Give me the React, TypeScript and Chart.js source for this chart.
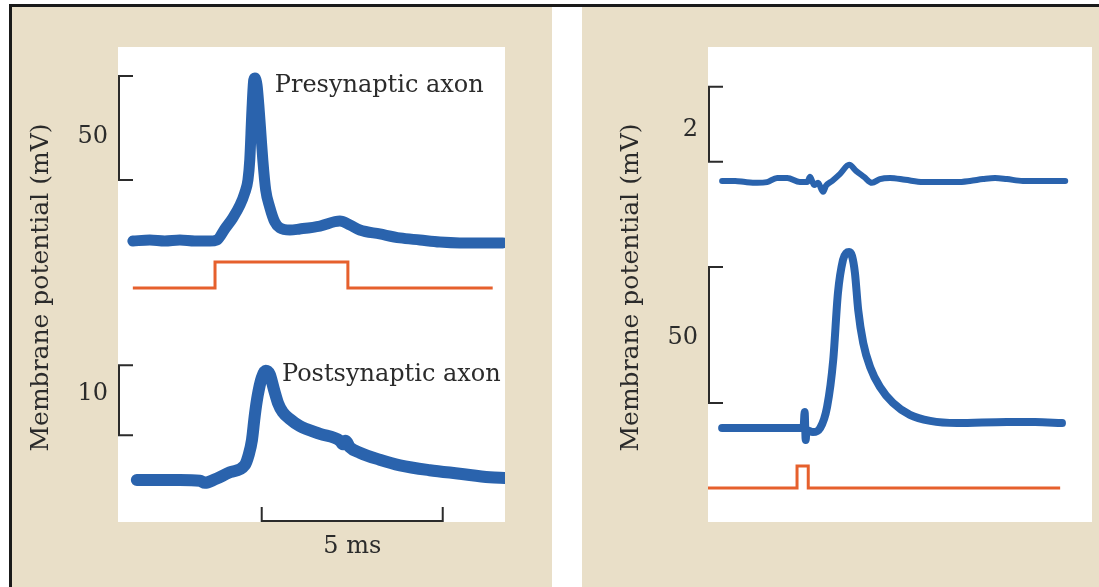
import React, { useEffect, useRef } from "react";
import { Chart, registerables } from "chart.js";

Chart.register(...registerables);

// ---------- Left panel data (time in ms, potential in mV) ----------
const preTime = [0, 0.47, 0.88, 1.3, 1.71, 2.13, 2.32, 2.54, 2.76, 2.96, 3.09, 3.18, 3.23, 3.29, 3.34, 3.37, 3.43, 3.48, 3.54, 3.59, 3.67, 3.78, 3.92, 4.06, 4.34, 4.61, 5.17, 5.72, 6.0, 6.27, 6.82, 7.38, 7.93, 8.48, 9.03, 9.59, 10.22];
const preVm = [-65.3, -64.8, -65.3, -64.8, -65.3, -65.3, -64.8, -59.5, -54.2, -48.0, -42.2, -35.9, -26.3, -2.3, 12.1, 13.1, 9.7, 0.1, -14.3, -26.3, -40.8, -48.9, -56.1, -59.0, -60.0, -59.5, -58.1, -55.7, -57.6, -60.0, -61.9, -63.8, -64.8, -65.8, -66.2, -66.2, -66.2];

const postTime = [0.11, 0.75, 1.3, 1.85, 1.99, 2.27, 2.68, 3.09, 3.2, 3.29, 3.37, 3.45, 3.56, 3.67, 3.78, 3.9, 4.01, 4.14, 4.34, 4.61, 5.17, 5.72, 5.8, 5.88, 5.99, 6.27, 6.82, 7.38, 8.2, 9.03, 9.86, 10.28];
const postVm = [-65.0, -65.0, -65.0, -65.1, -65.4, -64.9, -63.9, -62.9, -61.4, -59.3, -55.7, -52.9, -50.4, -49.4, -49.9, -52.1, -54.0, -55.3, -56.3, -57.3, -58.4, -59.4, -59.9, -59.4, -60.3, -61.1, -62.1, -62.9, -63.6, -64.1, -64.6, -64.7];

const stimLeftTime = [0, 2.27, 2.27, 5.94, 5.94, 9.94];
const stimLeftLevel = [0, 0, 1, 1, 0, 0];

// ---------- Right panel data ----------
const topTime = [0, 0.36, 0.64, 0.97, 1.24, 1.52, 1.8, 2.15, 2.35, 2.43, 2.54, 2.65, 2.79, 2.87, 3.04, 3.26, 3.51, 3.7, 3.92, 4.14, 4.36, 4.64, 5.06, 5.55, 6.02, 6.49, 6.85, 7.21, 7.54, 7.87, 8.31, 8.92, 9.48];
const topVm = [-65.0, -65.0, -65.03, -65.05, -65.03, -64.92, -64.92, -65.03, -65.03, -64.89, -65.11, -65.05, -65.29, -65.13, -65.0, -64.81, -64.57, -64.73, -64.89, -65.05, -64.95, -64.92, -64.97, -65.03, -65.03, -65.03, -65.0, -64.95, -64.92, -64.95, -65.0, -65.0, -65.0];

const lowTime = [0, 1.05, 2.21, 2.25, 2.28, 2.31, 2.33, 2.51, 2.71, 2.9, 3.07, 3.2, 3.34, 3.43, 3.51, 3.59, 3.67, 3.76, 3.9, 4.09, 4.36, 4.72, 5.19, 5.75, 6.49, 7.87, 8.65, 9.39];
const lowVm = [-65, -65, -65, -65, -59.1, -69.4, -65.7, -66.5, -65, -57.3, -40.0, -15.4, -3.2, -0.7, -0.3, -1.8, -8.0, -21.6, -33.8, -42.6, -49.9, -55.8, -60.2, -62.4, -63.2, -62.8, -62.8, -63.2];

const stimRightTime = [-0.39, 2.07, 2.07, 2.38, 2.38, 9.34];
const stimRightLevel = [0, 0, 1, 1, 0, 0];

// ---------- Labels ----------
const yTitle = "Membrane potential (mV)";
const preLabel = "Presynaptic axon";
const postLabel = "Postsynaptic axon";
const timeBarLabel = "5 ms";

const BLUE = "#2a63ad";
const ORANGE = "#e6602d";
const INK = "#2b2b2b";
const BEIGE = "#e9dfc8";
const SERIF = '"DejaVu Serif", serif';

const zip = (xs: number[], ys: number[]) => xs.map((x, i) => ({ x, y: ys[i] }));

type VBar = { axis: string; at: number; from: number; size: number; label: string; dy: number };
type HBar = { from: number; size: number; label: string };
type Tag = { axis: string; x: number; y: number; text: string };

function decor(cfg: { vBars: VBar[]; hBar?: HBar; tags: Tag[]; title: string }) {
  return {
    id: "decor",
    beforeDraw(chart: any) {
      const { ctx, chartArea: a } = chart;
      ctx.save();
      ctx.fillStyle = "#ffffff";
      ctx.fillRect(a.left, a.top, a.right - a.left, a.bottom - a.top);
      ctx.restore();
    },
    afterDraw(chart: any) {
      const { ctx, chartArea: a, scales } = chart;
      const xs = scales.x;
      ctx.save();
      ctx.strokeStyle = INK;
      ctx.fillStyle = INK;
      ctx.lineWidth = 2;
      ctx.lineCap = "butt";
      ctx.lineJoin = "miter";
      for (const b of cfg.vBars) {
        const s = scales[b.axis];
        const px = xs.getPixelForValue(b.at) + 1;
        const y1 = s.getPixelForValue(b.from);
        const y2 = s.getPixelForValue(b.from + b.size);
        ctx.beginPath();
        ctx.moveTo(px + 14, y1);
        ctx.lineTo(px, y1);
        ctx.lineTo(px, y2);
        ctx.lineTo(px + 14, y2);
        ctx.stroke();
        ctx.font = `24px ${SERIF}`;
        ctx.textAlign = "right";
        ctx.textBaseline = "middle";
        ctx.fillText(b.label, px - 11, (y1 + y2) / 2 + b.dy);
      }
      if (cfg.hBar) {
        const h = cfg.hBar;
        const x1 = xs.getPixelForValue(h.from);
        const x2 = xs.getPixelForValue(h.from + h.size);
        const y = a.bottom - 1;
        ctx.beginPath();
        ctx.moveTo(x1, y - 14);
        ctx.lineTo(x1, y);
        ctx.lineTo(x2, y);
        ctx.lineTo(x2, y - 14);
        ctx.stroke();
        ctx.font = `24px ${SERIF}`;
        ctx.textAlign = "center";
        ctx.textBaseline = "middle";
        ctx.fillText(h.label, (x1 + x2) / 2, y + 26);
      }
      for (const t of cfg.tags) {
        ctx.font = `24px ${SERIF}`;
        ctx.textAlign = "left";
        ctx.textBaseline = "alphabetic";
        ctx.fillText(t.text, xs.getPixelForValue(t.x), scales[t.axis].getPixelForValue(t.y));
      }
      ctx.translate(a.left - 77, (a.top + a.bottom) / 2 + 3);
      ctx.rotate(-Math.PI / 2);
      ctx.font = `25px ${SERIF}`;
      ctx.textAlign = "center";
      ctx.textBaseline = "middle";
      ctx.fillText(cfg.title, 0, 0);
      ctx.restore();
    },
  };
}

const traceStyle = {
  pointRadius: 0,
  fill: false,
  borderCapStyle: "round",
  borderJoinStyle: "round",
  cubicInterpolationMode: "monotone",
  borderColor: BLUE,
};

const stimStyle = {
  pointRadius: 0,
  fill: false,
  tension: 0,
  borderCapStyle: "butt",
  borderJoinStyle: "miter",
  borderColor: ORANGE,
  borderWidth: 3,
};

const hidden = (min: number, max: number) => ({ type: "linear", display: false, min, max });

export default function App() {
  const leftRef = useRef<HTMLCanvasElement>(null);
  const rightRef = useRef<HTMLCanvasElement>(null);

  useEffect(() => {
    const left = new Chart(leftRef.current as HTMLCanvasElement, {
      type: "line",
      data: {
        datasets: [
          { ...traceStyle, data: zip(preTime, preVm), yAxisID: "yPre", borderWidth: 11 },
          { ...stimStyle, data: zip(stimLeftTime, stimLeftLevel), yAxisID: "yStim" },
          { ...traceStyle, data: zip(postTime, postVm), yAxisID: "yPost", borderWidth: 12 },
        ] as any,
      },
      options: {
        responsive: false,
        animation: false,
        devicePixelRatio: 1,
        events: [],
        layout: { padding: { left: 106, top: 40, right: 47, bottom: 65 } },
        plugins: { legend: { display: false }, tooltip: { enabled: false } },
        scales: {
          x: hidden(-0.41, 10.28),
          yPre: hidden(-200.4, 28),
          yStim: hidden(-9.0, 9.27),
          yPost: hidden(-71, -3.14),
        } as any,
      },
      plugins: [
        decor({
          vBars: [
            { axis: "yPre", at: -0.41, from: -36, size: 50, label: "50", dy: 9 },
            { axis: "yPost", at: -0.41, from: -58.6, size: 10, label: "10", dy: -6 },
          ],
          hBar: { from: 3.56, size: 5, label: timeBarLabel },
          tags: [
            { axis: "yPre", x: 3.92, y: 6.4, text: preLabel },
            { axis: "yPost", x: 4.12, y: -50.9, text: postLabel },
          ],
          title: yTitle,
        }) as any,
      ],
    });

    const right = new Chart(rightRef.current as HTMLCanvasElement, {
      type: "line",
      data: {
        datasets: [
          { ...traceStyle, data: zip(topTime, topVm), yAxisID: "yTop", borderWidth: 6 },
          { ...traceStyle, data: zip(lowTime, lowVm), yAxisID: "yLow", borderWidth: 8 },
          { ...stimStyle, data: zip(stimRightTime, stimRightLevel), yAxisID: "yStim" },
        ] as any,
      },
      options: {
        responsive: false,
        animation: false,
        devicePixelRatio: 1,
        events: [],
        layout: { padding: { left: 126, top: 40, right: 7, bottom: 65 } },
        plugins: { legend: { display: false }, tooltip: { enabled: false } },
        scales: {
          x: hidden(-0.39, 10.22),
          yTop: hidden(-74.09, -61.43),
          yLow: hidden(-99.56, 75.07),
          yStim: hidden(-1.545, 20.05),
        } as any,
      },
      plugins: [
        decor({
          vBars: [
            { axis: "yTop", at: -0.39, from: -64.49, size: 2, label: "2", dy: 5 },
            { axis: "yLow", at: -0.39, from: -55.8, size: 50, label: "50", dy: 3 },
          ],
          tags: [],
          title: yTitle,
        }) as any,
      ],
    });

    return () => {
      left.destroy();
      right.destroy();
    };
  }, []);

  return (
    <div style={{ position: "fixed", left: 0, top: 0, width: 1099, height: 587, background: "#ffffff", overflow: "hidden" }}>
      <div style={{ position: "absolute", left: 9, top: 4, width: 1090, height: 3, background: "#1a1a1a" }} />
      <div style={{ position: "absolute", left: 9, top: 4, width: 3, height: 583, background: "#1a1a1a" }} />
      <div style={{ position: "absolute", left: 12, top: 7, width: 540, height: 580, background: BEIGE }} />
      <div style={{ position: "absolute", left: 582, top: 7, width: 517, height: 580, background: BEIGE }} />
      <canvas ref={leftRef} width={540} height={580} style={{ position: "absolute", left: 12, top: 7, width: 540, height: 580 }} />
      <canvas ref={rightRef} width={517} height={580} style={{ position: "absolute", left: 582, top: 7, width: 517, height: 580 }} />
    </div>
  );
}
